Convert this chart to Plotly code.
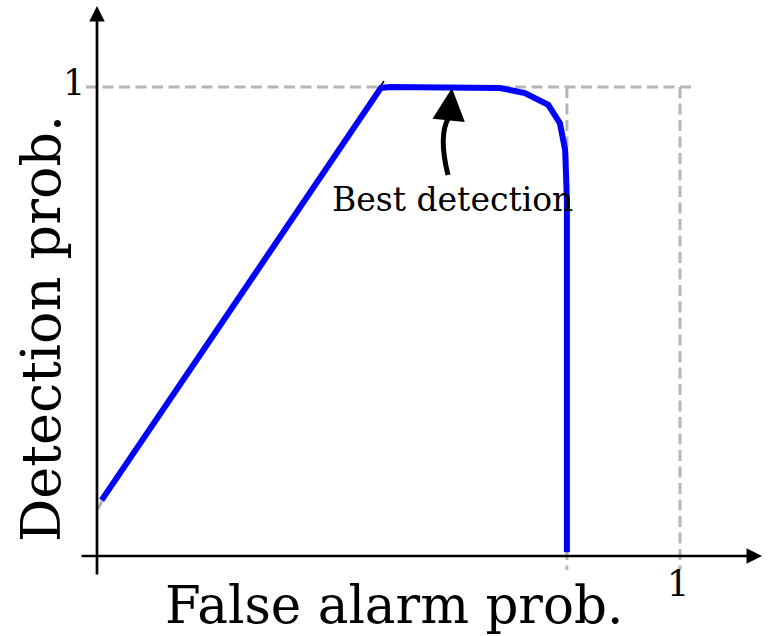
import plotly.graph_objects as go

# ROC-style curve: false alarm probability vs detection probability
false_alarm = [0.008, 0.487, 0.503, 0.560, 0.609, 0.691, 0.734, 0.774, 0.794, 0.803, 0.806, 0.806]
detection = [0.119, 0.998, 1.000, 1.000, 1.000, 0.998, 0.987, 0.962, 0.923, 0.866, 0.759, 0.008]

tick_one = 1.0
best_index = 4  # point marked as the best detection
x_label = "False alarm prob."
y_label = "Detection prob."
best_label = "Best detection"

W, H = 770, 636
X0_PX, X1_PX = 97, 680   # pixel positions of x = 0 and x = 1
Y0_PX, Y1_PX = 556, 87   # pixel positions of y = 0 and y = 1
sx = (X1_PX - X0_PX)
sy = (Y0_PX - Y1_PX)
x_range = [-X0_PX / sx, (W - X0_PX) / sx]
y_range = [-(H - Y0_PX) / sy, Y0_PX / sy]

def px_x(p):
    return (p - X0_PX) / sx

def px_y(p):
    return (Y0_PX - p) / sy

serif = "DejaVu Serif"
gray = "#b5b5b5"
dash = "11px,5.5px"

fig = go.Figure()

# Dashed guide lines at detection = 1, false alarm = 1 and at the curve's right edge
x_max = max(false_alarm)
guides = [
    dict(x0=px_x(86), y0=tick_one, x1=px_x(695), y1=tick_one),
    dict(x0=tick_one, y0=tick_one, x1=tick_one, y1=px_y(570)),
    dict(x0=x_max, y0=tick_one, x1=x_max, y1=px_y(570)),
]
for g in guides:
    fig.add_shape(type="line", xref="x", yref="y", line=dict(color=gray, width=3, dash=dash), layer="below", **g)

# Thin underlying lines along the rising edge of the curve
fig.add_shape(type="line", xref="x", yref="y", x0=px_x(98), y0=px_y(509), x1=px_x(103), y1=px_y(499),
              line=dict(color=gray, width=3), layer="below")
fig.add_shape(type="line", xref="x", yref="y", x0=px_x(103), y0=px_y(497), x1=px_x(384), y1=px_y(81),
              line=dict(color="black", width=1.5), layer="below")

fig.add_trace(go.Scatter(
    x=false_alarm, y=detection, mode="lines",
    line=dict(color="#0000ff", width=6),
    hoverinfo="skip", showlegend=False,
))

# Axes with arrow tips
axis_style = dict(xref="x", yref="y", axref="x", ayref="y", text="", showarrow=True,
                  arrowhead=2, arrowsize=1.15, arrowwidth=2.7, arrowcolor="black", standoff=0)
fig.add_annotation(x=px_x(762), y=0, ax=px_x(80), ay=0, **axis_style)
fig.add_annotation(x=0, y=px_y(6), ax=0, ay=px_y(576), **axis_style)

# Curved pointer towards the best detection point
bx, by = false_alarm[best_index], detection[best_index]
tail = (px_x(448), px_y(175))
ctrl = (px_x(438), px_y(135))
head_base = (px_x(449), px_y(117))
fig.add_shape(type="path", xref="x", yref="y",
              path=f"M {tail[0]},{tail[1]} Q {ctrl[0]},{ctrl[1]} {head_base[0]},{head_base[1]}",
              line=dict(color="black", width=5))
fig.add_annotation(x=bx, y=by, ax=head_base[0], ay=head_base[1], xref="x", yref="y",
                   axref="x", ayref="y", text="", showarrow=True, arrowhead=2,
                   arrowsize=1.3, arrowwidth=5, arrowcolor="black", standoff=1)

fig.add_annotation(x=px_x(452), y=px_y(199), text=best_label, showarrow=False,
                   xref="x", yref="y", font=dict(family=serif, size=33, color="black"))

# Tick labels
fig.add_annotation(x=px_x(74), y=px_y(83), text="1", showarrow=False, xref="x", yref="y",
                   font=dict(family=serif, size=35, color="black"))
fig.add_annotation(x=px_x(678), y=px_y(584), text="1", showarrow=False, xref="x", yref="y",
                   font=dict(family=serif, size=35, color="black"))

# Axis titles
fig.add_annotation(x=px_x(394), y=px_y(605), text=x_label, showarrow=False, xref="x", yref="y",
                   font=dict(family=serif, size=51.5, color="black"))
fig.add_annotation(x=px_x(41), y=px_y(329), text=y_label, showarrow=False, xref="x", yref="y",
                   textangle=-90, font=dict(family=serif, size=54, color="black"))

fig.update_xaxes(range=x_range, visible=False, fixedrange=True)
fig.update_yaxes(range=y_range, visible=False, fixedrange=True)
fig.update_layout(
    width=W, height=H, margin=dict(l=0, r=0, t=0, b=0),
    paper_bgcolor="white", plot_bgcolor="white", showlegend=False,
)

fig.write_html("out.html")
